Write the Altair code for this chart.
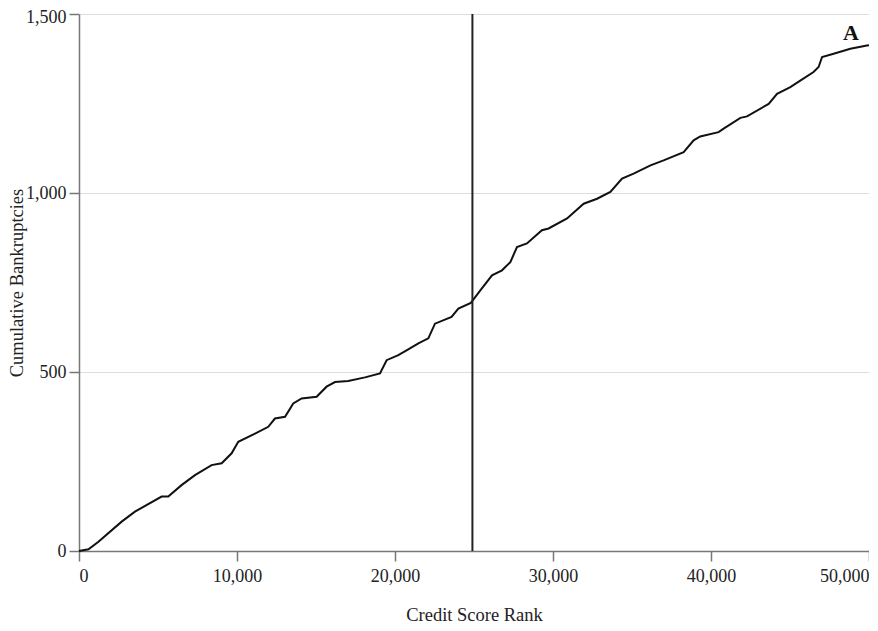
import altair as alt
import pandas as pd

rank = [0, 600, 1230, 2700, 3540, 5230, 5650, 6490, 7340, 8390, 9030, 9660,
        10080, 11140, 11980, 12400, 13040, 13560, 14090, 15040, 15670, 16200,
        17040, 18100, 19050, 19470, 20210, 20840, 21480, 22110, 22530, 23580,
        24010, 24800, 25400, 26140, 26770, 27300, 27720, 28350, 29300, 29720,
        30890, 31940, 32790, 33630, 34370, 35100, 36170, 37000, 38270, 38900,
        39320, 40480, 40800, 41860, 42280, 43650, 44180, 45020, 45650, 46490,
        46810, 47030, 47760, 48820, 49870, 50000]
cum = [0, 5, 26, 82, 110, 152, 152, 184, 212, 240, 245, 273,
       305, 328, 347, 370, 375, 412, 426, 431, 459, 472,
       475, 485, 496, 533, 547, 563, 580, 594, 635, 654,
       677, 693, 728, 770, 784, 807, 849, 859, 896, 901,
       929, 970, 984, 1003, 1040, 1054, 1077, 1091, 1114, 1147,
       1158, 1170, 1180, 1210, 1214, 1249, 1277, 1296, 1314, 1338,
       1352, 1380, 1389, 1403, 1412, 1413]
cutoff = [24900]
x_ticks = [0, 10000, 20000, 30000, 40000, 50000]
y_ticks = [0, 500, 1000, 1500]
panel_label = "A"

df = pd.DataFrame({"rank": rank, "cum": cum})
cut_df = pd.DataFrame({"rank": cutoff})

FONT = "Liberation Serif"

x_enc = alt.X(
    "rank:Q",
    scale=alt.Scale(domain=[0, 50000], nice=False),
    axis=alt.Axis(
        values=x_ticks, format=",d", title="Credit Score Rank", grid=False,
        tickSize=10, labelPadding=6, titleBaseline="alphabetic", titleY=69,
    ),
)
y_enc = alt.Y(
    "cum:Q",
    scale=alt.Scale(domain=[0, 1500], nice=False),
    axis=alt.Axis(
        values=y_ticks, format=",d", title="Cumulative Bankruptcies", grid=True,
        tickSize=10, labelPadding=3, titleBaseline="alphabetic", titleX=-57,
        labelOffset={"expr": "datum.value == 1500 ? 3 : 0"},
    ),
)

line = alt.Chart(df).mark_line(color="#111111", strokeWidth=2).encode(x=x_enc, y=y_enc)

rule = alt.Chart(cut_df).mark_rule(color="#222222", strokeWidth=2).encode(x="rank:Q")

label = alt.Chart(pd.DataFrame({"t": [panel_label]})).mark_text(
    font=FONT, fontSize=22, fontWeight="bold", color="#111111",
    align="center", baseline="alphabetic",
).encode(x=alt.value(772), y=alt.value(26), text="t:N")

chart = (
    alt.layer(line, rule, label)
    .properties(
        width=790, height=537,
        autosize=alt.AutoSizeParams(type="none"),
        padding={"left": 71, "top": 6, "right": 0, "bottom": 72},
    )
    .configure_view(stroke=None)
    .configure_axis(
        labelFont=FONT, titleFont=FONT, labelFontSize=18, titleFontSize=18.5,
        labelColor="#222222", titleColor="#222222", titleFontWeight="normal",
        domainColor="#777777", tickColor="#777777", domainWidth=1.5, tickWidth=1.5,
        gridColor="#dddddd", gridWidth=1,
    )
)

chart.save("out.html", embed_options={"renderer": "svg", "actions": False})
